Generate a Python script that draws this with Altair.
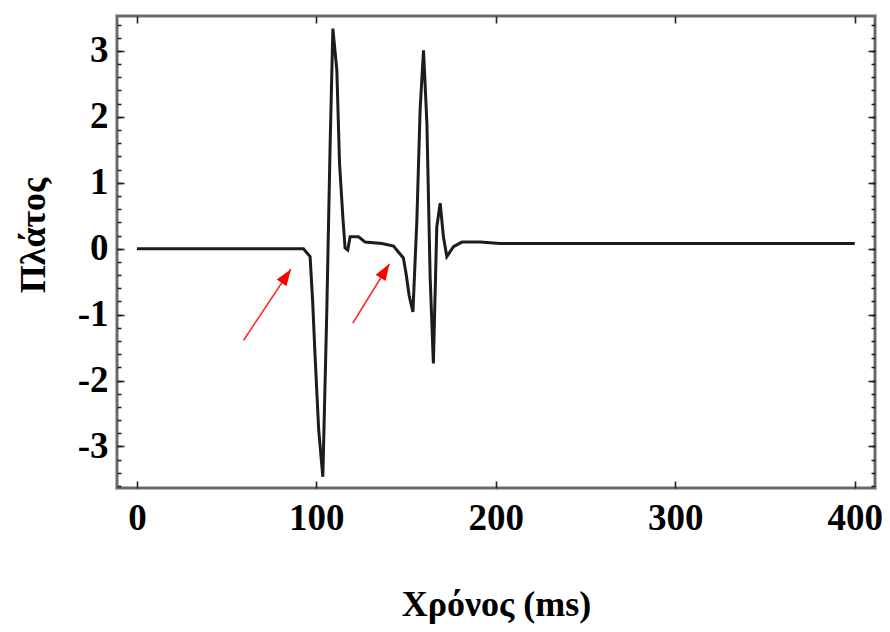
import altair as alt
import pandas as pd

# Waveform samples
time_ms = [0, 92.8, 96.5, 97.9, 99.3, 101.3, 103.6, 105.8, 107.7, 109.2, 111.4,
           112.9, 114.8, 116.0, 117.5, 118.8, 123.5, 127.2, 136.5, 143.0, 145.7,
           148.5, 150.0, 151.7, 153.8, 156.0, 157.8, 159.7, 161.6, 163.4, 165.2,
           167.1, 169.0, 170.8, 172.7, 176.4, 181.1, 191.3, 202.4, 400]
amplitude = [0, 0.0, -0.12, -0.78, -1.64, -2.75, -3.46, -0.96, 1.62, 3.34, 2.71,
             1.30, 0.46, 0.01, -0.02, 0.18, 0.18, 0.10, 0.08, 0.04, -0.05,
             -0.14, -0.38, -0.71, -0.96, 0.43, 2.10, 3.01, 1.90, -0.43, -1.74,
             0.33, 0.69, 0.18, -0.12, 0.03, 0.10, 0.10, 0.08, 0.08]

# Red annotation arrows (tail -> tip, in data units)
arrow_t0 = [59.4, 120.3]
arrow_a0 = [-1.39, -1.13]
arrow_t1 = [85.8, 140.7]
arrow_a1 = [-0.31, -0.23]
arrow_angle = [34, 32]

x_ticks = [0, 100, 200, 300, 400]
y_major = [-3, -2, -1, 0, 1, 2, 3]
y_minor = [round(-3.6 + 0.2 * i, 1) for i in range(36)]

W, H = 758, 472
FONT = "Liberation Serif"

df = pd.DataFrame({"t": time_ms, "a": amplitude})
arr = pd.DataFrame({"t0": arrow_t0, "a0": arrow_a0, "t1": arrow_t1,
                    "a1": arrow_a1, "ang": arrow_angle})

xs = alt.Scale(domain=[-11.1, 411.3], nice=False, zero=False)
ys = alt.Scale(domain=[-3.63, 3.53], nice=False, zero=False)

base = alt.Chart(df)

main = base.mark_line(color="#1c1c1c", strokeWidth=3).encode(
    x=alt.X("t:Q", scale=xs, axis=alt.Axis(
        orient="bottom", values=x_ticks, tickSize=0, domain=False, grid=False,
        labelFont=FONT, labelFontSize=37, labelFontWeight="bold", labelColor="black",
        labelPadding=12, labelFlush=False,
        title="Χρόνος (ms)", titleFont=FONT, titleFontSize=36, titleFontWeight="bold",
        titleColor="black", titleBaseline="alphabetic", titleY=127)),
    y=alt.Y("a:Q", scale=ys, axis=alt.Axis(
        orient="left", values=y_major, tickSize=0, domain=False, grid=False,
        labelFont=FONT, labelFontSize=37, labelFontWeight="bold", labelColor="black",
        labelPadding=9, labelFlush=False,
        labelExpr="replace(datum.label, '\u2212', '-')",
        title="Πλάτος", titleFont=FONT, titleFontSize=36, titleFontWeight="bold",
        titleColor="black", titleAngle=270, titleBaseline="middle",
        titleX=-84, titleY=219)),
)

tick_common = dict(labels=False, title="", domain=False, grid=False,
                   tickColor="#222222", tickWidth=1.6)

ticks_a = base.mark_line(opacity=0).encode(
    x=alt.X("t:Q", scale=xs, axis=alt.Axis(orient="top", offset=-H, values=x_ticks,
                                          tickSize=7, **tick_common)),
    y=alt.Y("a:Q", scale=ys, axis=alt.Axis(orient="right", offset=-W, values=y_minor,
                                          tickSize=4, **tick_common)),
)
ticks_b = base.mark_line(opacity=0).encode(
    x=alt.X("t:Q", scale=xs, axis=alt.Axis(orient="bottom", offset=-H, values=x_ticks,
                                          tickSize=7, **tick_common)),
    y=alt.Y("a:Q", scale=ys, axis=alt.Axis(orient="left", offset=-W, values=y_minor,
                                          tickSize=4, **tick_common)),
)
ticks_c = base.mark_line(opacity=0).encode(
    x=alt.X("t:Q", scale=xs, axis=None),
    y=alt.Y("a:Q", scale=ys, axis=alt.Axis(orient="right", offset=-W, values=y_major,
                                          tickSize=7, **tick_common)),
)
ticks_d = base.mark_line(opacity=0).encode(
    x=alt.X("t:Q", scale=xs, axis=None),
    y=alt.Y("a:Q", scale=ys, axis=alt.Axis(orient="left", offset=-W, values=y_major,
                                          tickSize=7, **tick_common)),
)

arrows = alt.Chart(arr).mark_rule(color="#ff2020", strokeWidth=1.6).encode(
    x=alt.X("t0:Q", scale=xs, axis=None),
    y=alt.Y("a0:Q", scale=ys, axis=None),
    x2="t1:Q",
    y2="a1:Q",
)
heads = alt.Chart(arr).mark_point(
    shape="M0,0L-0.6,1.7L0.6,1.7Z", filled=True, color="#ff0000", opacity=1, size=380,
).encode(
    x=alt.X("t1:Q", scale=xs, axis=None),
    y=alt.Y("a1:Q", scale=ys, axis=None),
    angle=alt.Angle("ang:Q", scale=None),
)

chart = alt.layer(main, ticks_a, ticks_b, ticks_c, ticks_d, arrows, heads).resolve_axis(
    x="independent", y="independent"
).properties(
    width=W, height=H,
    autosize=alt.AutoSizeParams(type="none"),
    padding={"left": 109, "top": 8, "right": 7, "bottom": 136},
    background="white",
).configure_view(stroke="#6a6a6a", strokeWidth=3)

chart.save("out.html", embed_options={"renderer": "svg", "actions": False})
